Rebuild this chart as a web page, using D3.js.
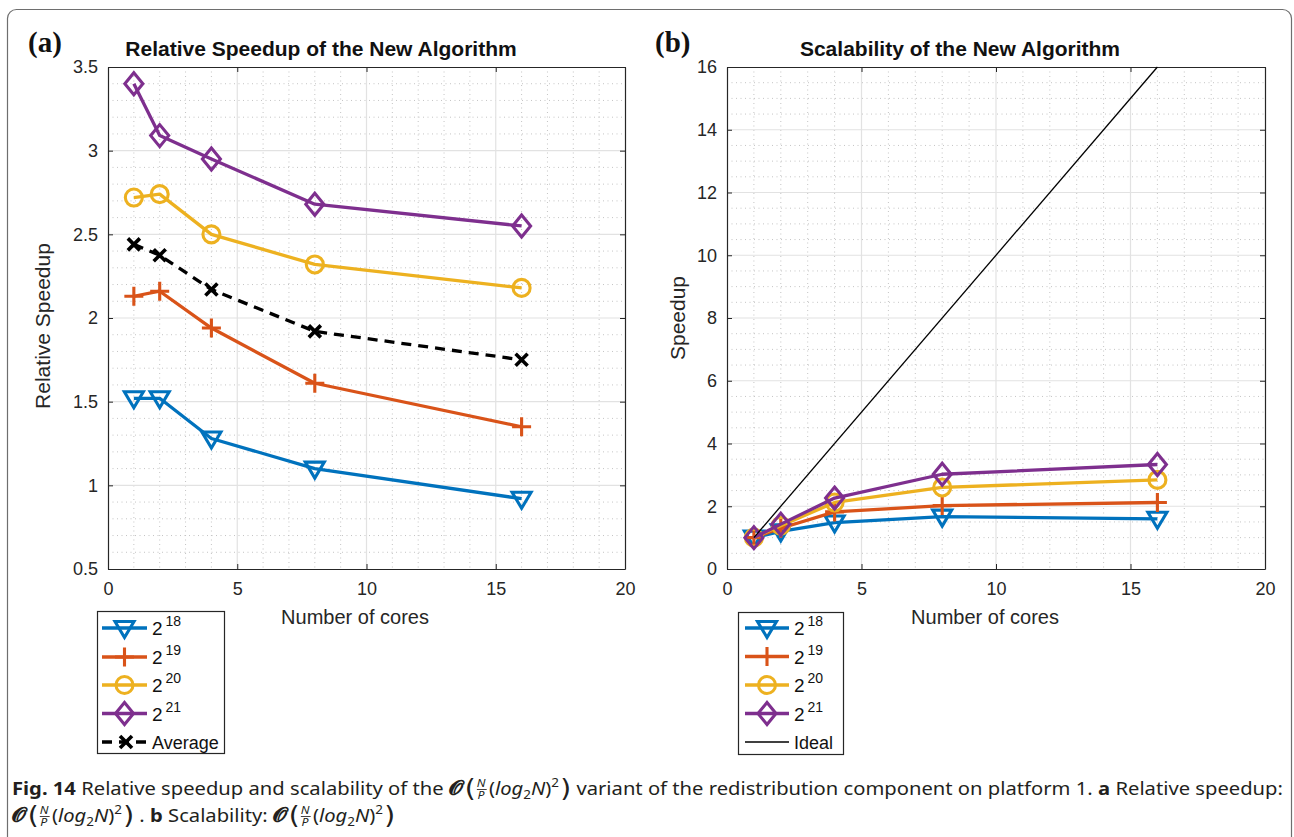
<!DOCTYPE html>
<html>
<head>
<meta charset="utf-8">
<script src="https://cdn.jsdelivr.net/npm/d3@7"></script>
<style>
  body { margin: 0; background: #fff; }
  svg { display: block; }
</style>
</head>
<body>
<svg id="fig" width="1294" height="837"></svg>
<script>
// ---- data ----------------------------------------------------------------
const cores = [1, 2, 4, 8, 16];
const sizeExponents = ["18", "19", "20", "21"];

// relative speedup of the new algorithm over the old one
const relSpeedup18 = [1.52, 1.52, 1.28, 1.10, 0.92];
const relSpeedup19 = [2.13, 2.16, 1.94, 1.61, 1.35];
const relSpeedup20 = [2.72, 2.74, 2.50, 2.32, 2.18];
const relSpeedup21 = [3.40, 3.09, 2.95, 2.68, 2.55];
const relSpeedupAvg = [2.44, 2.375, 2.17, 1.92, 1.75];

// scalability (speedup vs. one core)
const scal18 = [1.00, 1.20, 1.48, 1.67, 1.60];
const scal19 = [1.00, 1.30, 1.82, 2.02, 2.12];
const scal20 = [1.00, 1.38, 2.12, 2.60, 2.84];
const scal21 = [1.00, 1.43, 2.26, 3.02, 3.33];
const idealCores = [1, 16];
const idealSpeedup = [1, 16];

const xTicks = [0, 5, 10, 15, 20];
const relTicks = [0.5, 1, 1.5, 2, 2.5, 3, 3.5];
const scalTicks = [0, 2, 4, 6, 8, 10, 12, 14, 16];

// ---- styles ----------------------------------------------------------------
const palette = ["#0072BD", "#D95319", "#EDB120", "#7E2F8E"];
const markerKinds = ["triDown", "plus", "circle", "diamond"];
const axisColor = "#262626";
const axisFont = "'Liberation Sans', Arial, Helvetica, sans-serif";

const svg = d3.select("#fig");

// outer figure frame
svg.append("rect")
  .attr("x", 7.5).attr("y", 9.5)
  .attr("width", 1284).attr("height", 860)
  .attr("rx", 9)
  .attr("fill", "none").attr("stroke", "#6e6e6e").attr("stroke-width", 1.2);

function markerPath(kind) {
  switch (kind) {
    case "triDown": return "M-9.5,-6.5L9.5,-6.5L0,9.5Z";
    case "plus": return "M-9.5,0H9.5M0,-9.5V9.5";
    case "diamond": return "M0,-11L9,0L0,11L-9,0Z";
    case "x": return "M-6,-6L6,6M-6,6L6,-6";
    default: return null;
  }
}

function drawMarker(g, kind, cx, cy, color) {
  if (kind === "circle") {
    g.append("circle").attr("cx", cx).attr("cy", cy).attr("r", 8.5)
      .attr("fill", "none").attr("stroke", color).attr("stroke-width", 3.1);
  } else {
    g.append("path").attr("d", markerPath(kind))
      .attr("transform", `translate(${cx},${cy})`)
      .attr("fill", "none").attr("stroke", color)
      .attr("stroke-width", kind === "x" ? 3.6 : 3.1)
      .attr("stroke-linejoin", "miter");
  }
}

function drawPanel(cfg) {
  const g = svg.append("g");
  const x = d3.scaleLinear().domain([0, 20]).range([cfg.left, cfg.right]);
  const y = d3.scaleLinear().domain(cfg.yDomain).range([cfg.bottom, cfg.top]);

  // minor grid (dotted)
  const minorX = d3.range(0, 20.0001, 1).filter(v => v % 5 !== 0);
  const minorY = d3.range(cfg.yDomain[0], cfg.yDomain[1] + 1e-9, cfg.yMinor)
    .filter(v => !cfg.yTicks.some(t => Math.abs(t - v) < 1e-6));
  const grid = g.append("g");
  grid.selectAll(".mx").data(minorX).join("line")
    .attr("x1", d => x(d)).attr("x2", d => x(d))
    .attr("y1", cfg.top).attr("y2", cfg.bottom)
    .attr("stroke", "#c4c4c4").attr("stroke-width", 1).attr("stroke-dasharray", "1,3.5");
  grid.selectAll(".my").data(minorY).join("line")
    .attr("x1", cfg.left).attr("x2", cfg.right)
    .attr("y1", d => y(d)).attr("y2", d => y(d))
    .attr("stroke", "#c4c4c4").attr("stroke-width", 1).attr("stroke-dasharray", "1,3.5");
  // major grid (solid)
  grid.selectAll(".gx").data(xTicks.slice(1, -1)).join("line")
    .attr("x1", d => x(d)).attr("x2", d => x(d))
    .attr("y1", cfg.top).attr("y2", cfg.bottom)
    .attr("stroke", "#e2e2e2").attr("stroke-width", 1.2);
  grid.selectAll(".gy").data(cfg.yTicks.slice(1, -1)).join("line")
    .attr("x1", cfg.left).attr("x2", cfg.right)
    .attr("y1", d => y(d)).attr("y2", d => y(d))
    .attr("stroke", "#e2e2e2").attr("stroke-width", 1.2);

  // axes with inward ticks on all four sides
  const styleAxis = sel => {
    sel.selectAll("path").attr("stroke", axisColor).attr("stroke-width", 1.2);
    sel.selectAll("line").attr("stroke", axisColor).attr("stroke-width", 1);
    sel.selectAll("text").attr("fill", axisColor)
      .style("font-family", axisFont).style("font-size", "18px");
  };
  g.append("g").attr("transform", `translate(0,${cfg.bottom})`)
    .call(d3.axisBottom(x).tickValues(xTicks).tickSizeInner(-5).tickSizeOuter(0).tickPadding(13))
    .call(styleAxis);
  g.append("g").attr("transform", `translate(${cfg.left},0)`)
    .call(d3.axisLeft(y).tickValues(cfg.yTicks).tickSizeInner(-5).tickSizeOuter(0).tickPadding(10)
      .tickFormat(d3.format("")))
    .call(styleAxis);
  g.append("g").attr("transform", `translate(0,${cfg.top})`)
    .call(d3.axisTop(x).tickValues(xTicks).tickSizeInner(-5).tickSizeOuter(0).tickFormat(""))
    .call(styleAxis);
  g.append("g").attr("transform", `translate(${cfg.right},0)`)
    .call(d3.axisRight(y).tickValues(cfg.yTicks).tickSizeInner(-5).tickSizeOuter(0).tickFormat(""))
    .call(styleAxis);

  // series
  cfg.series.forEach(s => {
    const xs = s.xs || cfg.xs;
    const ln = d3.line().x((d, i) => x(xs[i])).y(d => y(d));
    g.append("path").datum(s.values).attr("d", ln)
      .attr("fill", "none").attr("stroke", s.color)
      .attr("stroke-width", s.width || 3.3)
      .attr("stroke-dasharray", s.dash || null)
      .attr("stroke-linejoin", "round");
    if (s.marker) {
      const mg = g.append("g");
      s.values.forEach((v, i) => drawMarker(mg, s.marker, x(xs[i]), y(v), s.color));
    }
  });

  // titles and labels
  g.append("text").attr("x", cfg.titleX).attr("y", cfg.top - 11)
    .attr("text-anchor", "middle").attr("fill", "#111")
    .style("font-family", axisFont).style("font-size", "21px").style("font-weight", "bold")
    .text(cfg.title);
  g.append("text").attr("x", cfg.tagX).attr("y", 52)
    .attr("fill", "#111")
    .style("font-family", "'Liberation Serif', 'Times New Roman', serif")
    .style("font-size", "29px").style("font-weight", "bold")
    .text(cfg.tag);
  g.append("text").attr("x", cfg.xLabelX).attr("y", 624)
    .attr("text-anchor", "middle").attr("fill", axisColor)
    .style("font-family", axisFont).style("font-size", "20px")
    .text("Number of cores");
  g.append("text")
    .attr("transform", `translate(${cfg.yLabelX},${cfg.yLabelY}) rotate(-90)`)
    .attr("text-anchor", "middle").attr("fill", axisColor)
    .style("font-family", axisFont).style("font-size", "21px")
    .text(cfg.yLabel);

  // legend
  const L = cfg.legend;
  const lg = g.append("g");
  lg.append("rect").attr("x", L.x).attr("y", L.y).attr("width", L.w).attr("height", L.h)
    .attr("fill", "#fff").attr("stroke", axisColor).attr("stroke-width", 1.2);
  L.entries.forEach((e, i) => {
    const cy = L.rowY[i];
    lg.append("line").attr("x1", L.lineX0).attr("x2", L.lineX1)
      .attr("y1", cy).attr("y2", cy)
      .attr("stroke", e.color).attr("stroke-width", e.width || 3.3)
      .attr("stroke-dasharray", e.dash || null);
    if (e.marker) drawMarker(lg, e.marker, e.markerX || (L.lineX0 + L.lineX1) / 2, cy, e.color);
    const t = lg.append("text").attr("x", L.textX).attr("y", cy + 7)
      .attr("fill", "#111").style("font-family", axisFont).style("font-size", "19px");
    if (e.exp) {
      t.append("tspan").text(e.base);
      t.append("tspan").attr("dx", 3).attr("dy", -9).style("font-size", "14px").text(e.exp);
    } else {
      t.style("font-size", "18px").text(e.label);
    }
  });
}

const sizeEntries = sizeExponents.map((ex, i) => ({
  base: "2", exp: ex, color: palette[i], marker: markerKinds[i]
}));

drawPanel({
  left: 108, right: 625, top: 67, bottom: 569,
  yDomain: [0.5, 3.5], yTicks: relTicks, yMinor: 0.1,
  xs: cores,
  series: [
    { values: relSpeedup18, color: palette[0], marker: markerKinds[0] },
    { values: relSpeedup19, color: palette[1], marker: markerKinds[1] },
    { values: relSpeedup20, color: palette[2], marker: markerKinds[2] },
    { values: relSpeedup21, color: palette[3], marker: markerKinds[3] },
    { values: relSpeedupAvg, color: "#000", marker: "x", dash: "10,7" }
  ],
  title: "Relative Speedup of the New Algorithm", titleX: 321,
  tag: "(a)", tagX: 28,
  xLabelX: 355,
  yLabel: "Relative Speedup", yLabelX: 50, yLabelY: 326,
  legend: {
    x: 97.5, y: 611.5, w: 127, h: 142,
    lineX0: 102, lineX1: 147, textX: 152,
    rowY: [628, 657, 685, 713.5, 742],
    entries: sizeEntries.concat([{ label: "Average", color: "#000", marker: "x", dash: "10,7", markerX: 126 }])
  }
});

drawPanel({
  left: 727, right: 1265, top: 67, bottom: 569,
  yDomain: [0, 16], yTicks: scalTicks, yMinor: 0.5,
  xs: cores,
  series: [
    { values: scal18, color: palette[0], marker: markerKinds[0] },
    { values: scal19, color: palette[1], marker: markerKinds[1] },
    { values: scal20, color: palette[2], marker: markerKinds[2] },
    { values: scal21, color: palette[3], marker: markerKinds[3] },
    { values: idealSpeedup, xs: idealCores, color: "#000", width: 1.3 }
  ],
  title: "Scalability of the New Algorithm", titleX: 960,
  tag: "(b)", tagX: 655,
  xLabelX: 985,
  yLabel: "Speedup", yLabelX: 685, yLabelY: 318,
  legend: {
    x: 738.5, y: 612.5, w: 105, h: 142,
    lineX0: 745, lineX1: 789, textX: 794,
    rowY: [628, 656.5, 685, 713.5, 742],
    entries: sizeEntries.concat([{ label: "Ideal", color: "#000", width: 1.3 }])
  }
});

// ---- caption -------------------------------------------------------------
const capFont = "'Noto Sans', 'Open Sans', sans-serif";

function makeLine(yBase) {
  const g = svg.append("g").attr("transform", `translate(12,${yBase})`);
  let cx = 0;
  const api = {
    g,
    run(text, style = {}) {
      const t = g.append("text").attr("x", cx).attr("y", style.dy || 0)
        .attr("fill", "#231f20")
        .style("font-family", style.family || capFont)
        .style("font-size", (style.size || 18) + "px")
        .style("font-weight", style.bold ? "bold" : "normal")
        .style("font-style", style.italic ? "italic" : "normal")
        .style("white-space", "pre")
        .attr("xml:space", "preserve")
        .text(text);
      const w = t.node().getComputedTextLength();
      if (!style.noAdvance) cx += w;
      return w;
    },
    gap(px) { cx += px; },
    // O( N/P (log2 N)^2 )
    bigO() {
      api.run("\u{1D4DE}", { bold: true, size: 20, family: "'DejaVu Serif', serif" });
      api.gap(1);
      api.run("(", { size: 25, dy: 2, family: "'DejaVu Sans', sans-serif" });
      api.gap(1);
      const fx = cx;
      const wN = api.run("N", { italic: true, size: 11, dy: -8, noAdvance: true });
      cx = fx + 0.5;
      api.run("P", { italic: true, size: 11, dy: 4, noAdvance: true });
      g.append("line").attr("x1", fx).attr("x2", fx + wN + 1)
        .attr("y1", -5.5).attr("y2", -5.5).attr("stroke", "#231f20").attr("stroke-width", 0.8);
      cx = fx + wN + 3;
      api.run("(", { size: 18 });
      api.run("log", { italic: true, size: 18 });
      api.run("2", { size: 12, dy: 4 });
      api.run("N", { italic: true, size: 18 });
      api.run(")", { size: 18 });
      api.run("2", { size: 12, dy: -8 });
      api.gap(1);
      api.run(")", { size: 25, dy: 2, family: "'DejaVu Sans', sans-serif" });
    },
    width() { return cx; }
  };
  return api;
}

const line1 = makeLine(795);
line1.run("Fig. 14", { bold: true });
line1.run(" Relative speedup and scalability of the ");
line1.bigO();
line1.run(" variant of the redistribution component on platform 1. ");
line1.run("a", { bold: true });
line1.run(" Relative speedup:");
const k = 1271 / line1.width();
line1.g.attr("transform", `translate(12,795) scale(${k},1)`);

const line2 = makeLine(822);
line2.bigO();
line2.run(" . ");
line2.run("b", { bold: true });
line2.run(" Scalability: ");
line2.bigO();
line2.g.attr("transform", `translate(12,822) scale(${k},1)`);
</script>
</body>
</html>
